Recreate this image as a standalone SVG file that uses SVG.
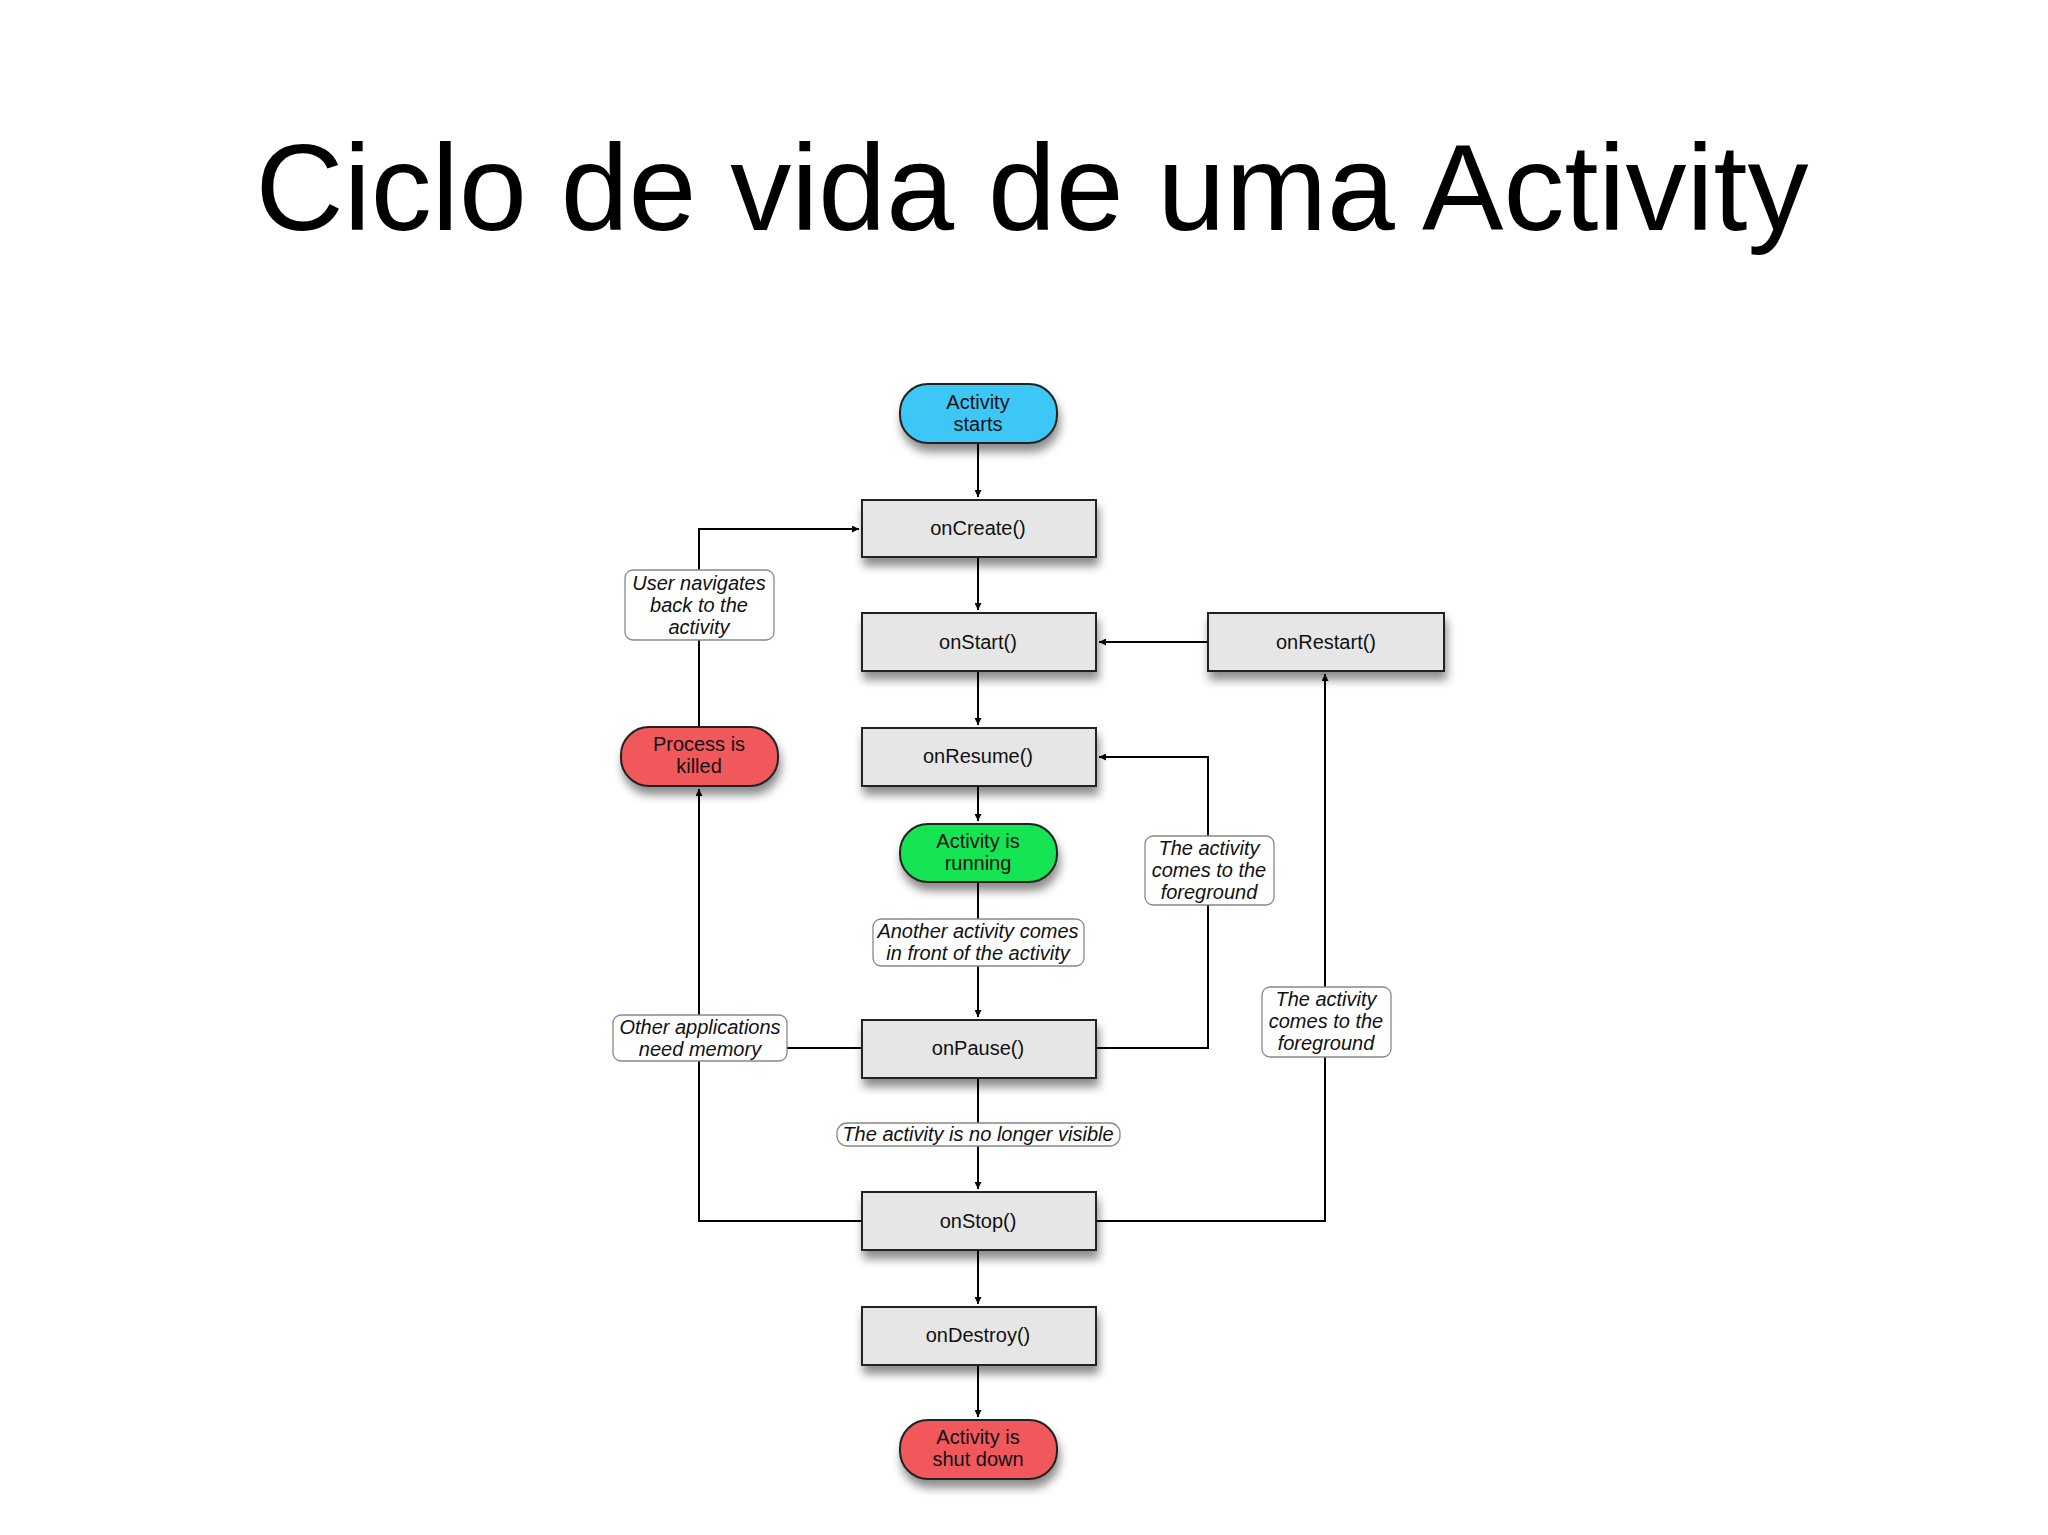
<svg xmlns="http://www.w3.org/2000/svg" width="2048" height="1535" viewBox="0 0 2048 1535">
<defs>
<filter id="sh" x="-20%" y="-30%" width="150%" height="180%"><feDropShadow dx="2" dy="8" stdDeviation="5" flood-color="#000" flood-opacity="0.45"/></filter>
<marker id="ar" viewBox="0 0 10 10" refX="10" refY="5" markerWidth="7" markerHeight="7" orient="auto" markerUnits="userSpaceOnUse"><path d="M0,0 L10,5 L0,10 z" fill="#000"/></marker>
<style>
.box{fill:#e6e6e6;stroke:#222;stroke-width:2;filter:url(#sh)}
.pill{stroke:#222;stroke-width:2;filter:url(#sh)}
.t{font-family:"Liberation Sans",Arial,sans-serif;font-size:20px;text-anchor:middle;fill:#111}
.lab{fill:#fff;stroke:#888;stroke-width:1.3}
.it{font-family:"Liberation Sans",Arial,sans-serif;font-size:20px;font-style:italic;text-anchor:middle;fill:#111}
.c{fill:none;stroke:#000;stroke-width:2}
</style>
</defs>
<rect width="2048" height="1535" fill="#fff"/>
<text x="1032" y="230" font-family="Liberation Sans,Arial,sans-serif" font-size="122" text-anchor="middle">Ciclo de vida de uma Activity</text>
<g id="connectors">
<path class="c" d="M978,443 V497" marker-end="url(#ar)"/>
<path class="c" d="M978,557 V610" marker-end="url(#ar)"/>
<path class="c" d="M978,671 V725" marker-end="url(#ar)"/>
<path class="c" d="M978,786 V821" marker-end="url(#ar)"/>
<path class="c" d="M978,882 V1017" marker-end="url(#ar)"/>
<path class="c" d="M978,1078 V1189" marker-end="url(#ar)"/>
<path class="c" d="M978,1250 V1304" marker-end="url(#ar)"/>
<path class="c" d="M978,1365 V1417" marker-end="url(#ar)"/>
<path class="c" d="M1208,642 H1099" marker-end="url(#ar)"/>
<path class="c" d="M699,726 V529 H859" marker-end="url(#ar)"/>
<path class="c" d="M862,1048 H787"/>
<path class="c" d="M862,1221 H699 V789" marker-end="url(#ar)"/>
<path class="c" d="M1096,1048 H1208 V757 H1099" marker-end="url(#ar)"/>
<path class="c" d="M1096,1221 H1325 V674" marker-end="url(#ar)"/>
</g>
<g id="labels">
<rect class="lab" x="625" y="570" width="149" height="70" rx="8"/>
<text class="it" x="699" y="590">User navigates</text><text class="it" x="699" y="612">back to the</text><text class="it" x="699" y="634">activity</text>
<rect class="lab" x="873" y="919" width="211" height="47" rx="8"/>
<text class="it" x="978" y="938">Another activity comes</text><text class="it" x="978" y="960">in front of the activity</text>
<rect class="lab" x="837" y="1123" width="283" height="23" rx="10"/>
<text class="it" x="978" y="1141">The activity is no longer visible</text>
<rect class="lab" x="613" y="1015" width="174" height="46" rx="8"/>
<text class="it" x="700" y="1034">Other applications</text><text class="it" x="700" y="1056">need memory</text>
<rect class="lab" x="1145" y="836" width="129" height="69" rx="8"/>
<text class="it" x="1209" y="855">The activity</text><text class="it" x="1209" y="877">comes to the</text><text class="it" x="1209" y="899">foreground</text>
<rect class="lab" x="1262" y="987" width="129" height="70" rx="8"/>
<text class="it" x="1326" y="1006">The activity</text><text class="it" x="1326" y="1028">comes to the</text><text class="it" x="1326" y="1050">foreground</text>
</g>
<g id="start"><rect class="pill" x="900" y="384" width="157" height="59" rx="28" fill="#3cc7f7"/><text class="t" x="978" y="409">Activity</text><text class="t" x="978" y="431">starts</text></g>
<g id="onCreate"><rect class="box" x="862" y="500" width="234" height="57"/><text class="t" x="978" y="535">onCreate()</text></g>
<g id="onStart"><rect class="box" x="862" y="613" width="234" height="58"/><text class="t" x="978" y="649">onStart()</text></g>
<g id="onRestart"><rect class="box" x="1208" y="613" width="236" height="58"/><text class="t" x="1326" y="649">onRestart()</text></g>
<g id="onResume"><rect class="box" x="862" y="728" width="234" height="58"/><text class="t" x="978" y="763">onResume()</text></g>
<g id="running"><rect class="pill" x="900" y="824" width="157" height="58" rx="28" fill="#19e552"/><text class="t" x="978" y="848">Activity is</text><text class="t" x="978" y="870">running</text></g>
<g id="killed"><rect class="pill" x="621" y="727" width="157" height="59" rx="28" fill="#f0595b"/><text class="t" x="699" y="751">Process is</text><text class="t" x="699" y="773">killed</text></g>
<g id="onPause"><rect class="box" x="862" y="1020" width="234" height="58"/><text class="t" x="978" y="1055">onPause()</text></g>
<g id="onStop"><rect class="box" x="862" y="1192" width="234" height="58"/><text class="t" x="978" y="1228">onStop()</text></g>
<g id="onDestroy"><rect class="box" x="862" y="1307" width="234" height="58"/><text class="t" x="978" y="1342">onDestroy()</text></g>
<g id="shutdown"><rect class="pill" x="900" y="1420" width="157" height="59" rx="28" fill="#f0595b"/><text class="t" x="978" y="1444">Activity is</text><text class="t" x="978" y="1466">shut down</text></g>
</svg>
